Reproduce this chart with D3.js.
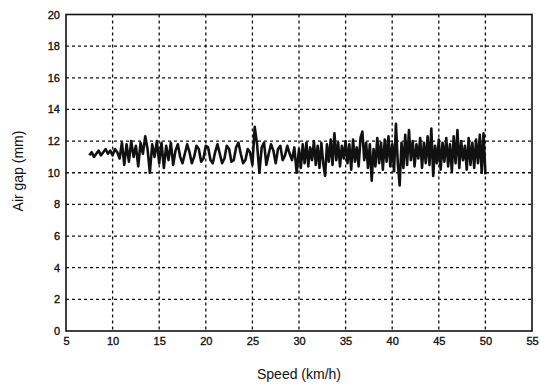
<!DOCTYPE html>
<html>
<head>
<meta charset="utf-8">
<script src="https://cdn.jsdelivr.net/npm/d3@7"></script>
<style>
    body { margin: 0; background: #fff; }
    text { font-family: "Liberation Sans", Arial, sans-serif; fill: #111; }
</style>
</head>
<body>
<div id="chart-div"></div>
<script>
//---------------------------------//
// Data       //
//---------------------------------//

var xTicks = [5, 10, 15, 20, 25, 30, 35, 40, 45, 50, 55];
var yTicks = [0, 2, 4, 6, 8, 10, 12, 14, 16, 18, 20];

var speed = [
    7.5, 7.75, 8.0, 8.25, 8.5, 8.75, 9.0, 9.25, 9.5, 9.75, 10.0, 10.25, 10.5,
    10.75, 11.0, 11.25, 11.5, 11.75, 12.0, 12.25, 12.5, 12.75, 13.0, 13.25, 13.5, 13.75, 14.0, 14.25, 14.5, 14.75, 15.0,
    15.25, 15.5, 15.75, 16.0, 16.25, 16.5, 16.75, 17.0, 17.25, 17.5, 17.75, 18.0, 18.25, 18.5, 18.75, 19.0, 19.25, 19.5, 19.75, 20.0,
    20.25, 20.5, 20.75, 21.0, 21.25, 21.5, 21.75, 22.0, 22.25, 22.5, 22.75, 23.0, 23.25, 23.5, 23.75, 24.0, 24.25, 24.5, 24.75, 25.0,
    25.25, 25.5, 25.75, 26.0, 26.25, 26.5, 26.75, 27.0, 27.25, 27.5, 27.75, 28.0, 28.25, 28.5, 28.75, 29.0, 29.25, 29.5, 29.75, 30.0,
    30.2, 30.4, 30.6, 30.8, 31.0, 31.2, 31.4, 31.6, 31.8, 32.0, 32.2, 32.4, 32.6, 32.8, 33.0, 33.2, 33.4, 33.6, 33.8, 34.0,
    34.2, 34.4, 34.6, 34.8, 35.0, 35.2, 35.4, 35.6, 35.8, 36.0, 36.2, 36.4, 36.6, 36.8, 37.0, 37.2, 37.4, 37.6, 37.8, 38.0,
    38.2, 38.4, 38.6, 38.8, 39.0, 39.2, 39.4, 39.6, 39.8, 40.0, 40.2, 40.4, 40.6, 40.8, 41.0, 41.2, 41.4, 41.6, 41.8, 42.0,
    42.2, 42.4, 42.6, 42.8, 43.0, 43.2, 43.4, 43.6, 43.8, 44.0, 44.2, 44.4, 44.6, 44.8, 45.0, 45.2, 45.4, 45.6, 45.8, 46.0,
    46.2, 46.4, 46.6, 46.8, 47.0, 47.2, 47.4, 47.6, 47.8, 48.0, 48.2, 48.4, 48.6, 48.8, 49.0, 49.2, 49.4, 49.6, 49.8, 50.0
];

var airGap = [
    11.1, 11.3, 11.0, 11.2, 11.4, 11.1, 11.3, 11.5, 11.2, 11.4, 11.1, 11.5, 11.3,
    10.9, 11.9, 10.5, 11.8, 10.7, 12.0, 11.0, 11.7, 10.4, 11.9, 11.2, 12.3, 11.5, 10.0, 11.8, 11.0, 12.0, 10.6,
    11.9, 10.3, 11.7, 10.8, 11.9, 10.5, 11.4, 11.8, 11.0, 10.6, 11.2, 11.8, 11.3, 10.6, 11.0, 11.7, 11.5, 10.7, 10.9, 11.7,
    11.6, 10.8, 10.6, 11.3, 11.8, 11.2, 10.6, 10.9, 11.7, 11.5, 10.7, 10.8, 11.6, 11.9, 11.2, 10.6, 10.8, 11.5, 11.3, 10.5,
    12.9, 11.8, 10.0, 11.6, 11.9, 10.5, 11.2, 11.8, 11.4, 10.6, 11.5, 11.7, 10.8, 11.1, 11.7, 11.2, 10.8, 11.6, 10.0, 11.5,
    10.3, 11.8, 10.6, 11.9, 10.4, 11.6, 10.8, 12.0, 10.5, 11.7, 10.3, 11.9, 10.6, 9.8, 11.8, 10.7, 12.1, 10.5, 12.5, 10.8,
    11.9, 10.4, 11.7, 10.9, 12.0, 10.6, 11.8, 10.2, 12.1, 10.7, 11.6, 10.4, 12.2, 12.6, 10.8, 11.9, 10.3, 11.8, 9.5, 11.5,
    10.4, 12.2, 10.6, 11.9, 10.2, 12.1, 10.7, 12.3, 10.4, 11.8, 10.1, 13.1, 10.6, 9.2, 11.9, 10.3, 12.4, 10.5, 12.7, 10.8,
    12.0, 10.4, 11.8, 10.9, 12.2, 10.3, 11.9, 10.6, 12.3, 10.5, 12.8, 9.8, 11.7, 10.6, 12.1, 10.2, 11.9, 10.7, 12.2, 10.4,
    11.8, 10.1, 12.3, 10.6, 12.7, 10.3, 12.0, 10.8, 11.7, 10.2, 12.2, 10.5, 11.9, 10.3, 12.1, 10.6, 12.4, 10.0, 12.5, 9.9
];

//---------------------------------//
// Chart Object                    //
//---------------------------------//

window.Chart = window.Chart || {};

Chart.init = function() {
    Chart.setup.initConsts();       //Sizes and margins
    Chart.setup.initSvg();          //Create svg
    Chart.setup.initScales();       //x and y scales

    Chart.draw.grid();              //Dashed grid
    Chart.draw.axes();              //Tick labels and frame
    Chart.draw.line();              //Air gap trace
    Chart.draw.labels();            //Axis titles
};

Chart.setup = {
    initConsts: function() {
        Chart.width = 540;
        Chart.height = 388;
        Chart.left = 66;            //Plot box edges
        Chart.right = 532;
        Chart.top = 14.5;
        Chart.bottom = 331;
    },

    initSvg: function() {
        Chart.svg = d3.select('#chart-div')
                      .append('svg')
                        .attr('width', Chart.width)
                        .attr('height', Chart.height);
    },

    initScales: function() {
        Chart.x = d3.scaleLinear()
                    .domain([5, 55])
                    .range([Chart.left, Chart.right]);
        Chart.y = d3.scaleLinear()
                    .domain([0, 20])
                    .range([Chart.bottom, Chart.top]);
    },
};

Chart.draw = {
    grid: function() {
        var g = Chart.svg.append('g');

        g.selectAll('line.vgrid')
            .data(xTicks.slice(1, -1))
            .enter().append('line')
              .attr('class', 'vgrid')
              .attr('x1', function(d) { return Chart.x(d); })
              .attr('x2', function(d) { return Chart.x(d); })
              .attr('y1', Chart.top)
              .attr('y2', Chart.bottom);

        g.selectAll('line.hgrid')
            .data(yTicks.slice(1, -1))
            .enter().append('line')
              .attr('class', 'hgrid')
              .attr('x1', Chart.left)
              .attr('x2', Chart.right)
              .attr('y1', function(d) { return Chart.y(d); })
              .attr('y2', function(d) { return Chart.y(d); });

        g.selectAll('line')
            .attr('stroke', '#111')
            .attr('stroke-width', 1.3)
            .attr('stroke-dasharray', '3,3');
    },

    axes: function() {
        var xAxis = d3.axisBottom(Chart.x).tickValues(xTicks).tickSize(0).tickPadding(6);
        var yAxis = d3.axisLeft(Chart.y).tickValues(yTicks).tickSize(0).tickPadding(6);

        var gx = Chart.svg.append('g')
                    .attr('transform', 'translate(0,' + Chart.bottom + ')')
                    .call(xAxis);
        var gy = Chart.svg.append('g')
                    .attr('transform', 'translate(' + Chart.left + ',0)')
                    .call(yAxis);

        [gx, gy].forEach(function(g) {
            g.select('.domain').remove();
            g.selectAll('text')
                .attr('font-size', 11)
                .attr('font-family', '"Liberation Sans", Arial, sans-serif')
                .attr('fill', '#111')
                .attr('stroke', '#111')
                .attr('stroke-width', 0.35);    //scanned digits look heavier
        });

        Chart.svg.append('rect')                                //Plot frame
            .attr('x', Chart.left)
            .attr('y', Chart.top)
            .attr('width', Chart.right - Chart.left)
            .attr('height', Chart.bottom - Chart.top)
            .attr('fill', 'none')
            .attr('stroke', '#111')
            .attr('stroke-width', 1.6);
    },

    line: function() {
        var pts = speed.map(function(s, i) { return [s, airGap[i]]; });
        var path = d3.line()
                     .x(function(d) { return Chart.x(d[0]); })
                     .y(function(d) { return Chart.y(d[1]); });

        Chart.svg.append('path')
            .datum(pts)
            .attr('d', path)
            .attr('fill', 'none')
            .attr('stroke', '#111')
            .attr('stroke-width', 2.6)
            .attr('stroke-linejoin', 'round');
    },

    labels: function() {
        Chart.svg.append('text')
            .attr('x', 299)
            .attr('y', 379)
            .attr('text-anchor', 'middle')
            .attr('font-size', 14)
            .text('Speed (km/h)');

        Chart.svg.append('text')
            .attr('transform', 'translate(23,171) rotate(-90)')
            .attr('text-anchor', 'middle')
            .attr('font-size', 14)
            .text('Air gap (mm)');
    },
};

document.addEventListener('DOMContentLoaded', Chart.init);
</script>
</body>
</html>
